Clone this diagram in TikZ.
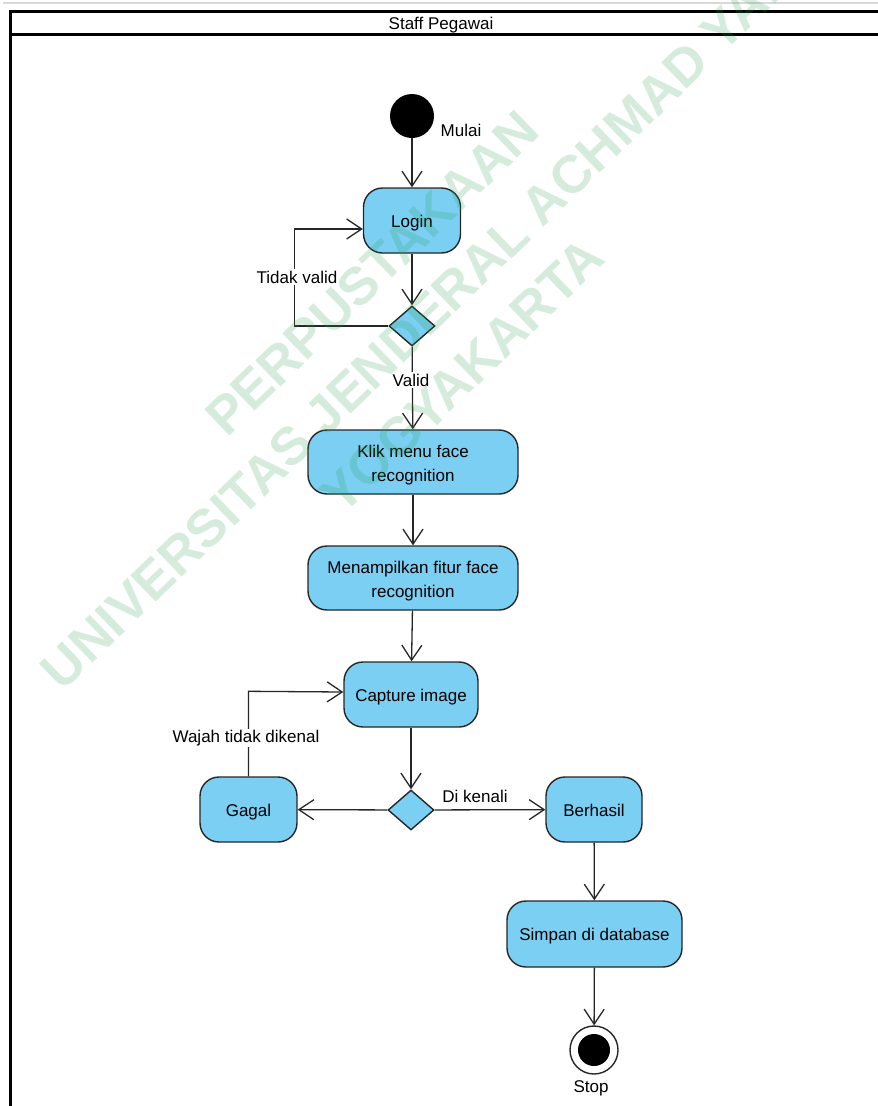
\documentclass[tikz,border=0pt]{standalone}
\usepackage{fontspec}
\setmainfont{Liberation Sans}
\usetikzlibrary{arrows.meta,shapes.geometric}

\definecolor{actblue}{HTML}{7ACFF3}
\definecolor{edge}{HTML}{262626}
\definecolor{wmgreen}{HTML}{2E9E4F}

\tikzset{
  act/.style={draw=edge, line width=1.4pt, fill=actblue, rounded corners=19pt,
              align=center, inner sep=0pt, font=\fontsize{17}{24}\selectfont,
              text height=13pt, text depth=0pt},
  acttwo/.style={act, text height=38pt, text depth=0pt},
  decide/.style={draw=edge, line width=1.4pt, fill=actblue, diamond, inner sep=0pt,
                 minimum width=46pt, minimum height=40pt},
  flow/.style={draw=edge, line width=1.3pt,
               -{Straight Barb[length=15pt,width=20pt,line width=1.3pt]}},
  lbl/.style={font=\fontsize{17}{20}\selectfont, inner sep=1.5pt},
  gap/.style={lbl, fill=white},
  wm/.style={font=\fontsize{53}{53}\selectfont\bfseries, text=wmgreen,
             text opacity=0.2, rotate=44, inner sep=0pt},
  pool/.style={line width=3pt, draw=black}
}

\begin{document}
\begin{tikzpicture}[x=1pt,y=-1pt]
  \useasboundingbox (0,0) rectangle (878,1106);

  % swimlane frame
  \draw[black!15, line width=1.2pt] (3,3) -- (878,3);
  \draw[pool] (10,1110) -- (10,11.5) -- (890,11.5);
  \draw[pool] (10,34.5) -- (890,34.5);
  \node[lbl] (lane) at (441,25) {Staff Pegawai};

  % start
  \node[circle, fill=black, minimum size=44pt, inner sep=0pt] (start) at (412,116) {};
  \node[lbl, anchor=west] (mulai) at (439,130) {Mulai};

  % activities
  \node[act, minimum width=97pt, minimum height=65pt] (login) at (412,220.5) {Login};
  \node[decide] (d1) at (412,326) {};
  \node[acttwo, minimum width=210pt, minimum height=64pt] (klik) at (413,462) {Klik menu face\\recognition};
  \node[acttwo, minimum width=210pt, minimum height=64pt] (tampil) at (413,578) {Menampilkan fitur face\\recognition};
  \node[act, minimum width=134pt, minimum height=65pt] (capture) at (411,694.5) {Capture image};
  \node[decide] (d2) at (411,810) {};
  \node[act, minimum width=97pt, minimum height=65pt] (gagal) at (248.5,809.5) {Gagal};
  \node[act, minimum width=96pt, minimum height=65pt] (berhasil) at (594,809.5) {Berhasil};
  \node[act, minimum width=175pt, minimum height=66pt] (simpan) at (594.5,934) {Simpan di database};

  % end
  \node[circle, draw=edge, line width=1.4pt, fill=white, minimum size=48pt, inner sep=0pt] (stop) at (594,1050) {};
  \node[circle, fill=black, minimum size=32pt, inner sep=0pt] at (stop.center) {};
  \node[lbl] (stoplbl) at (591,1088) {Stop};

  % flows
  \draw[flow] (start) -- (login);
  \draw[flow] (login) -- (d1);
  \draw[flow] (d1.west) -- ++(-94,0) |- ([yshift=-8.5pt]login.west);
  \node[gap] (tidak) at (297,277) {Tidak valid};
  \draw[flow] (d1) -- (klik);
  \node[gap] (valid) at (411,380) {Valid};
  \draw[flow] (klik) -- (tampil);
  \draw[flow] (tampil) -- (capture);
  \draw[flow] (capture) -- (d2);
  \draw[flow] (d2) -- (gagal);
  \draw[flow] (gagal.north) -- ++(0,-85) -- (capture.west |- 0,692);
  \node[gap] (wajah) at (246,738) {Wajah tidak dikenal};
  \draw[flow] (d2) -- (berhasil);
  \node[lbl] (kenali) at (475,796) {Di kenali};
  \draw[flow] (berhasil) -- (simpan);
  \draw[flow] (simpan) -- (stop);

  % library watermark
  \node[wm] (wm1) at (372,273) {PERPUSTAKAAN};
  \node[wm] (wm2) at (424,318) {UNIVERSITAS JENDERAL ACHMAD YANI};
  \node[wm] (wm3) at (462,376) {YOGYAKARTA};
\end{tikzpicture}
\end{document}
